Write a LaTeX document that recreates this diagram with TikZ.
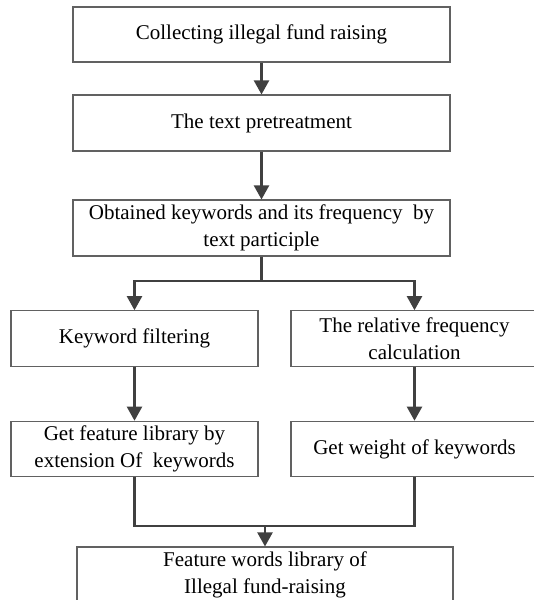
\documentclass[tikz,border=0pt]{standalone}
\usepackage{fontspec}
\setmainfont{Liberation Serif}
\usetikzlibrary{arrows.meta}
\tikzset{
  boxnode/.style={draw=black!62, line width=1.1pt, inner sep=0pt, align=center,
    font=\fontsize{21}{27}\selectfont},
  wide/.style={boxnode, minimum width=377pt, minimum height=55pt},
  half/.style={boxnode, minimum width=247pt, minimum height=55.5pt},
  conn/.style={draw=black!75, line width=2.2pt},
  arr/.style={conn, -{Triangle[width=15pt,length=14pt]}}
}
\begin{document}
\begin{tikzpicture}[x=1pt,y=-1pt]
\useasboundingbox (0,0) rectangle (534,600);
\clip (0,0) rectangle (534,600);
\node[wide] (b1) at (261.5,34.5) {Collecting illegal fund raising};
\node[wide, minimum height=56pt] (b2) at (261.5,123) {The text pretreatment};
\node[wide, minimum height=56pt] (b3) at (261.5,228) {Obtained keywords and its frequency\ \ by\\text participle};
\node[half] (b4) at (134.5,338.5) {Keyword filtering};
\node[half] (b5) at (414.5,338.5) {The relative frequency\\calculation};
\node[half] (b6) at (134.5,449) {Get feature library by\\extension Of\ \ keywords};
\node[half] (b7) at (414.5,449) {Get weight of keywords};
\node[boxnode, minimum width=376pt, minimum height=56pt] (b8) at (265,575) {Feature words library of\\Illegal fund-raising};
\coordinate (j1) at (261.5,281);
\coordinate (j2) at (265,526);
\draw[arr] (b1.south) -- (b2.north);
\draw[arr] (b2.south) -- (b3.north);
\draw[conn] (b3.south) -- (j1);
\draw[arr] (j1) -| (b4.north);
\draw[arr] (j1) -| (b5.north);
\draw[arr] (b4.south) -- (b6.north);
\draw[arr] (b5.south) -- (b7.north);
\draw[conn] (b6.south) |- (j2);
\draw[conn] (b7.south) |- (j2);
\draw[arr] (j2) -- (b8.north);
\end{tikzpicture}
\end{document}
